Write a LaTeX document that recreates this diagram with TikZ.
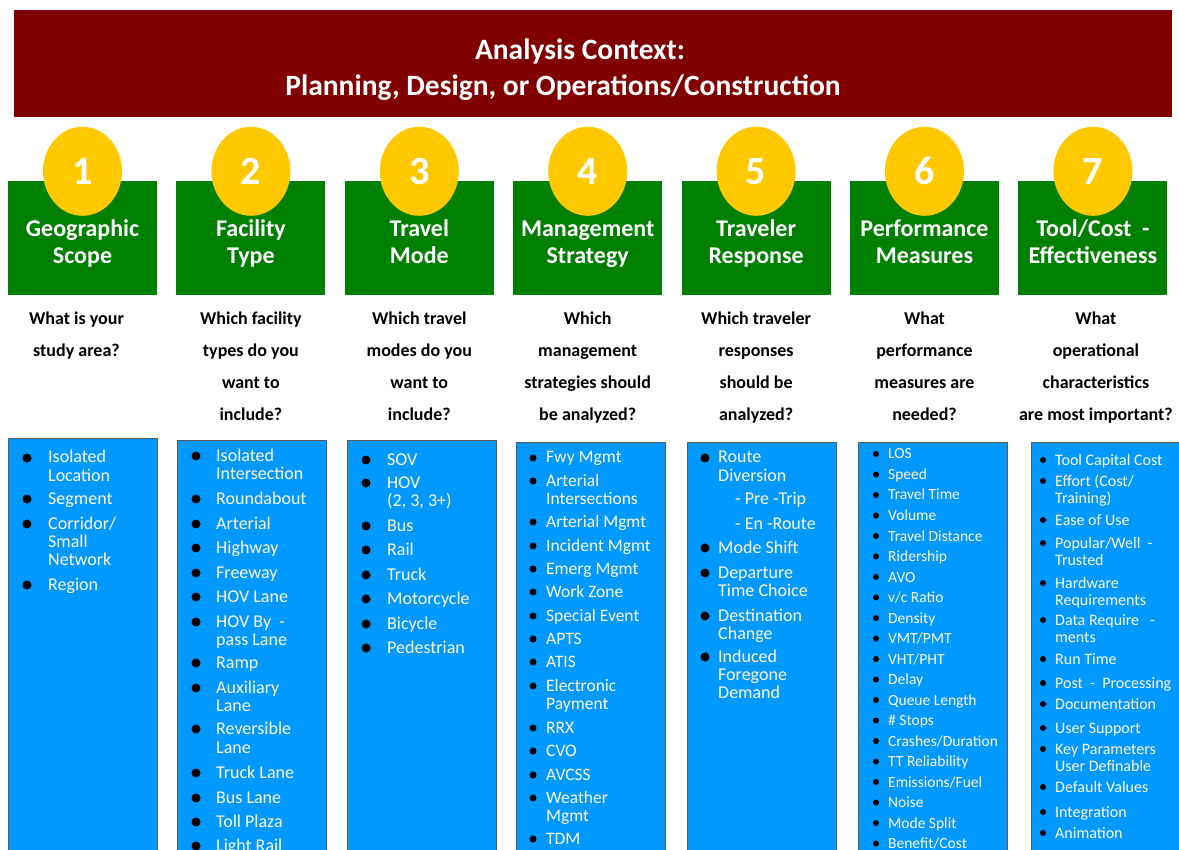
\documentclass[tikz,border=0pt]{standalone}
\usepackage{fontspec}
\setmainfont{Carlito}
\usetikzlibrary{positioning,shapes.geometric}

\definecolor{ctxred}{RGB}{128,0,0}
\definecolor{headgreen}{RGB}{0,128,0}
\definecolor{numyellow}{RGB}{255,200,0}
\definecolor{listblue}{RGB}{0,153,255}
\definecolor{itemcream}{RGB}{255,246,225}

\newcommand{\itemlines}[1]{\begin{tabular}[t]{@{}l@{}}#1\end{tabular}}

\begin{document}
\begin{tikzpicture}[x=1pt, y=-1pt, node distance=19pt,
  ctx/.style = {fill=ctxred, minimum width=1158pt, minimum height=107pt},
  ctxtext/.style = {text=white, align=center, font=\fontsize{29.5}{36}\selectfont\bfseries},
  head/.style = {fill=headgreen, minimum width=149pt, minimum height=114pt, inner sep=0pt, text=white, align=center, font=\fontsize{24}{27}\selectfont\bfseries, text height=58pt, text depth=6pt},
  num/.style = {ellipse, fill=numyellow, minimum width=79pt, minimum height=89pt, inner sep=0pt, text=white, font=\fontsize{40}{40}\selectfont\bfseries},
  ask/.style = {inner sep=0pt, align=center, font=\fontsize{18}{32}\selectfont\bfseries},
  list/.style = {fill=listblue, draw=black!65, line width=1pt, anchor=north west, minimum width=149pt, minimum height=440pt, inner sep=0pt},
  item/.style = {anchor=base west, inner sep=0pt, text=itemcream, font=\fontsize{18}{18}\selectfont},
  dot/.style = {circle, fill=black, inner sep=0pt, minimum size=9pt}]
\useasboundingbox (0,0) rectangle (1179,850);

\node[ctx] (ctx) at (593,63.5) {};
\node[ctxtext] (ctxt) at (563,70) {\hspace*{34pt}Analysis Context:\\Planning, Design, or Operations/Construction};

% the seven steps
\node[head] (h1) at (82.5,238) {Geographic\\Scope};
\node[head, right=of h1] (h2) {Facility\\Type};
\node[head, right=of h2] (h3) {Travel\\Mode};
\node[head, right=of h3] (h4) {Management\\Strategy};
\node[head, right=of h4] (h5) {Traveler\\Response};
\node[head, right=of h5] (h6) {Performance\\Measures};
\node[head, right=of h6] (h7) {Tool/Cost \ -\\Effectiveness};

\foreach \i in {1,...,7}
  \node[num] (n\i) at ([yshift=9.5pt]h\i.north) {\i};

\node[ask, below=16pt of h1, xshift=-6pt] (q1) {What is your\\study area?};
\node[ask, below=16pt of h2] (q2) {Which facility\\types do you\\want to\\include?};
\node[ask, below=16pt of h3] (q3) {Which travel\\modes do you\\want to\\include?};
\node[ask, below=16pt of h4] (q4) {Which\\management\\strategies should\\be analyzed?};
\node[ask, below=16pt of h5] (q5) {Which traveler\\responses\\should be\\analyzed?};
\node[ask, below=16pt of h6] (q6) {What\\performance\\measures are\\needed?};
\node[ask, below=16pt of h7, xshift=3pt] (q7) {What\\operational\\characteristics\\are most important?};

% lists
\node[list] (b1) at (8,438) {};
\node[list] (b2) at (177,440) {};
\node[list] (b3) at (347,440) {};
\node[list] (b4) at (516,442) {};
\node[list] (b5) at (687,442) {};
\node[list] (b6) at (858,442) {};
\node[list] (b7) at (1031,442) {};

\foreach \y/\t [count=\i] in {463/{Isolated\\Location}, 504/Segment, 529/{Corridor/\\Small\\Network}, 590/Region} {
  \node[dot] (d1-\i) at (27,\y-5) {};
  \node[item] (i1-\i) at (48,\y) {\itemlines{\t}};
}

\foreach \y/\t [count=\i] in {461/{Isolated\\Intersection}, 504/Roundabout, 529/Arterial, 553/Highway, 578/Freeway, 602/HOV Lane, 627/{HOV By \ -\\pass Lane}, 668/Ramp, 693/{Auxiliary\\Lane}, 734/{Reversible\\[1pt]Lane}, 778/Truck Lane, 803/Bus Lane, 827/Toll Plaza, 851/Light Rail} {
  \node[dot] (d2-\i) at (196,\y-5) {};
  \node[item] (i2-\i) at (216,\y) {\itemlines{\t}};
}

\foreach \y/\t [count=\i] in {465/SOV, 488/{HOV\\(2, 3, 3+)}, 531/Bus, 555/Rail, 580/Truck, 604/Motorcycle, 629/Bicycle, 653/Pedestrian} {
  \node[dot] (d3-\i) at (366,\y-5) {};
  \node[item] (i3-\i) at (387,\y) {\itemlines{\t}};
}

\begin{scope}[dot/.append style={minimum size=7pt}, item/.append style={font=\fontsize{17.5}{18}\selectfont}]
\foreach \y/\t [count=\i] in {463/Fwy Mgmt, 486/{Arterial\\Intersections}, 527/Arterial Mgmt, 551/Incident Mgmt, 574/Emerg Mgmt, 597/Work Zone, 621/Special Event, 644/APTS, 667/ATIS, 691/{Electronic\\Payment}, 733/RRX, 756/CVO, 780/AVCSS, 803/{Weather\\Mgmt}, 844/TDM} {
  \node[dot] (d4-\i) at (533,\y-5) {};
  \node[item] (i4-\i) at (546,\y) {\itemlines{\t}};
}
\end{scope}

\foreach \y/\t [count=\i] in {463/{Route\\Diversion\\[6pt]\hspace*{17pt}- Pre -Trip\\[7pt]\hspace*{17pt}- En -Route}, 553/Mode Shift, 578/{Departure\\Time Choice}, 621/{Destination\\Change}, 662/{Induced\\Foregone\\Demand}} {
  \node[dot] (d5-\i) at (705,\y-5) {};
  \node[item] (i5-\i) at (718,\y) {\itemlines{\t}};
}

\begin{scope}[dot/.append style={minimum size=6pt}, item/.append style={font=\fontsize{15.5}{17}\selectfont}]
\foreach \t [count=\i, evaluate=\i as \y using 459+20.5*(\i-1)] in {LOS, Speed, Travel Time, Volume, Travel Distance, Ridership, AVO, v/c Ratio, Density, VMT/PMT, VHT/PHT, Delay, Queue Length, \# Stops, Crashes/Duration, TT Reliability, Emissions/Fuel, Noise, Mode Split, Benefit/Cost} {
  \node[dot] (d6-\i) at (876,\y-5) {};
  \node[item] (i6-\i) at (888,\y) {\t};
}
\end{scope}

\begin{scope}[dot/.append style={minimum size=6pt}, item/.append style={font=\fontsize{16}{17}\selectfont}]
\foreach \y/\t [count=\i] in {465/Tool Capital Cost, 486/{Effort (Cost/\\Training)}, 525/Ease of Use, 548/{Popular/Well \ -\\Trusted}, 588/{Hardware\\Requirements}, 625/{Data Require \ \ -\\ments}, 664/Run Time, 688/Post \ - \ Processing, 709/Documentation, 733/User Support, 754/{Key Parameters\\User Definable}, 792/Default Values, 817/Integration, 838/Animation} {
  \node[dot] (d7-\i) at (1043,\y-5) {};
  \node[item] (i7-\i) at (1055,\y) {\itemlines{\t}};
}
\end{scope}
\end{tikzpicture}
\end{document}
